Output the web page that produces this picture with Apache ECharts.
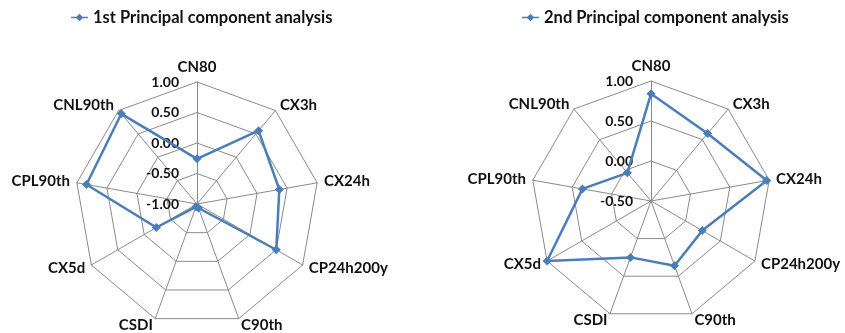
<!DOCTYPE html>
<html>
<head>
<meta charset="utf-8">
<script src="https://cdn.jsdelivr.net/npm/echarts@6/dist/echarts.min.js"></script>
<style>
  html, body { margin: 0; padding: 0; background: #fff; }
  #chart { width: 845px; height: 333px; }
</style>
</head>
<body>
<div id="chart"></div>
<script>
// Indicators, listed clockwise from the top
const indicators = ['CN80', 'CX3h', 'CX24h', 'CP24h200y', 'C90th', 'CSDI', 'CX5d', 'CPL90th', 'CNL90th'];

const seriesNames = ['1st Principal component analysis', '2nd Principal component analysis'];

// Loadings of each component, same order as indicators
const pc1Values = [-0.26, 0.57, 0.37, 0.50, -0.93, -0.95, -0.23, 0.84, 0.93];
const pc2Values = [0.84, 0.60, 0.97, 0.24, 0.36, 0.25, 1.00, 0.37, -0.04];

// Axis ranges and tick steps
const pc1Range = { min: -1, max: 1, step: 0.5 };
const pc2Range = { min: -0.5, max: 1, step: 0.5 };

const lineColor = '#4a7ebb';
const gridColor = '#8a8a8a';
const fontFamily = 'Lato, "Open Sans", sans-serif';

// ECharts places indicators counter-clockwise; reverse the tail to run clockwise
function clockwise(arr) {
  return [arr[0]].concat(arr.slice(1).reverse());
}

function buildIndicators(range) {
  return clockwise(indicators).map(function (name, i) {
    const ind = { name: name, min: range.min, max: range.max };
    if (i === 0) {
      ind.axisLabel = {
        show: true,
        showMinLabel: true,
        showMaxLabel: true,
        formatter: function (v) { return Number(v).toFixed(2); },
        color: '#111',
        fontFamily: fontFamily,
        fontWeight: 'bold',
        fontSize: 14,
        margin: 18
      };
    }
    return ind;
  });
}

function buildRadar(center, radius, range) {
  return {
    center: center,
    radius: radius,
    startAngle: 90,
    shape: 'polygon',
    splitNumber: Math.round((range.max - range.min) / range.step),
    indicator: buildIndicators(range),
    nameGap: 7,
    axisName: {
      color: '#111',
      fontFamily: fontFamily,
      fontWeight: 'bold',
      fontSize: 15
    },
    axisLine: { lineStyle: { color: gridColor, width: 1 } },
    splitLine: { lineStyle: { color: gridColor, width: 1 } },
    splitArea: { show: false },
    axisTick: { show: false },
    axisLabel: { show: false }
  };
}

function buildLegend(name, left) {
  return {
    data: [name],
    left: left,
    top: 4,
    icon: 'path://M0,4.2H20V5.8H0Z M10,0.5L14.5,5L10,9.5L5.5,5Z',
    itemWidth: 17,
    itemHeight: 9,
    itemGap: 10,
    textStyle: {
      color: '#111',
      fontFamily: fontFamily,
      fontWeight: 'bold',
      fontSize: 16.5
    }
  };
}

function buildSeries(name, radarIndex, values) {
  return {
    type: 'radar',
    name: name,
    radarIndex: radarIndex,
    symbol: 'diamond',
    symbolSize: 9,
    itemStyle: { color: lineColor },
    lineStyle: { color: lineColor, width: 2.5 },
    data: [{ name: name, value: clockwise(values) }]
  };
}

const chart = echarts.init(document.getElementById('chart'), null, { renderer: 'canvas' });
chart.setOption({
  animation: false,
  backgroundColor: '#fff',
  legend: [
    buildLegend(seriesNames[0], 66),
    buildLegend(seriesNames[1], 517)
  ],
  radar: [
    buildRadar([197, 204], 122, pc1Range),
    buildRadar([651, 201], 120, pc2Range)
  ],
  series: [
    buildSeries(seriesNames[0], 0, pc1Values),
    buildSeries(seriesNames[1], 1, pc2Values)
  ]
});
</script>
</body>
</html>
